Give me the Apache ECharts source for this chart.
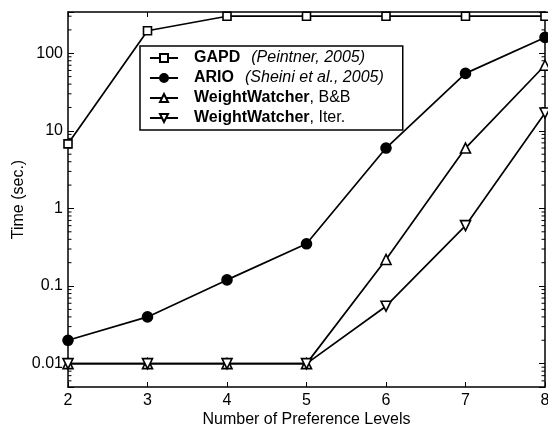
<!DOCTYPE html>
<html><head><meta charset="utf-8">
<script src="https://cdn.jsdelivr.net/npm/echarts@6/dist/echarts.min.js"></script>
<style>html,body{margin:0;padding:0;background:#fff}#c{width:548px;height:426px}</style>
</head><body><div id="c"></div><script>
const categories = ['2', '3', '4', '5', '6', '7', '8'];
const gapd = [6.8, 195, 300, 300, 300, 300, 300];
const ario = [0.02, 0.04, 0.12, 0.35, 6, 55, 160];
const wwBB = [0.01, 0.01, 0.01, 0.01, 0.22, 6, 70];
const wwIter = [0.01, 0.01, 0.01, 0.01, 0.055, 0.6, 17];
const seriesNames = ['GAPD', 'ARIO', 'WeightWatcher B&B', 'WeightWatcher Iter.'];
const legendBold = ['GAPD', 'ARIO', 'WeightWatcher', 'WeightWatcher'];
const legendRest = ['(Peintner, 2005)', '(Sheini et al., 2005)', ', B&B', ', Iter.'];
const legendItalic = [true, true, false, false];
const majorTickLabels = [0.01, 0.1, 1, 10, 100];
const minorTickValues = [0.006, 0.007, 0.008, 0.009,
  0.02, 0.03, 0.04, 0.05, 0.06, 0.07, 0.08, 0.09,
  0.2, 0.3, 0.4, 0.5, 0.6, 0.7, 0.8, 0.9,
  2, 3, 4, 5, 6, 7, 8, 9,
  20, 30, 40, 50, 60, 70, 80, 90,
  200, 300];

const FONT = 'Liberation Sans, Arial, Helvetica, sans-serif';
const chart = echarts.init(document.getElementById('c'), null, {renderer: 'canvas'});

function majorLabel(v) {
  for (const m of majorTickLabels) {
    if (Math.abs(Math.log10(v) - Math.log10(m)) < 1e-6) return String(m);
  }
  return '';
}

const lineStyle = {color: '#000', width: 1.7};
function mkSeries(name, data, symbol, size, fill, rotate) {
  return {
    type: 'line', name: name, data: data, symbol: symbol, symbolSize: size,
    symbolRotate: rotate || 0,
    itemStyle: {color: fill, borderColor: '#000', borderWidth: 1.6},
    lineStyle: lineStyle, xAxisIndex: 0, yAxisIndex: 0, z: 5
  };
}

const yBase = {
  type: 'log', logBase: 10, min: 0.005, max: 340,
  axisLine: {show: true, lineStyle: {color: '#000', width: 1.5}},
  axisTick: {show: true, inside: true, length: 6, lineStyle: {color: '#000', width: 1}},
  splitLine: {show: false}
};

const option = {
  animation: false,
  backgroundColor: '#fff',
  grid: {left: 68, right: 3, top: 12, bottom: 39, containLabel: false, outerBoundsMode: 'none'},
  legend: {
    data: seriesNames,
    orient: 'vertical', left: 140, top: 46,
    padding: [4, 19, 4, 9],
    itemWidth: 28, itemHeight: 10, itemGap: 4,
    borderColor: '#000', borderWidth: 1.5, borderRadius: 0,
    backgroundColor: '#fff',
    selectedMode: false,
    textStyle: {color: '#000', fontSize: 16, fontFamily: FONT, lineHeight: 16,
      rich: {
        b: {fontWeight: 'bold', fontSize: 16, fontFamily: FONT, color: '#000', lineHeight: 16, padding: [0, 0, 0, 11]},
        i: {fontStyle: 'italic', fontSize: 16, fontFamily: FONT, color: '#000', lineHeight: 16, padding: [0, 0, 0, 11]},
        r: {fontSize: 16, fontFamily: FONT, color: '#000', lineHeight: 16}
      }},
    formatter: function (name) {
      const i = seriesNames.indexOf(name);
      return '{b|' + legendBold[i] + '}' + (legendItalic[i] ? '{i|' : '{r|') + legendRest[i] + '}';
    }
  },
  xAxis: [{
    type: 'category', data: categories, boundaryGap: false, position: 'bottom',
    axisLine: {show: true, lineStyle: {color: '#000', width: 1.5}},
    axisTick: {show: true, inside: true, length: 5, alignWithLabel: true, lineStyle: {color: '#000', width: 1}},
    axisLabel: {color: '#000', fontSize: 16, fontFamily: FONT, margin: 6},
    splitLine: {show: false},
    name: 'Number of Preference Levels', nameLocation: 'middle', nameGap: 25, nameMoveOverlap: false,
    nameTextStyle: {color: '#000', fontSize: 16, fontFamily: FONT, verticalAlign: 'top'}
  }, {
    type: 'category', data: categories, boundaryGap: false, position: 'top',
    axisLine: {show: true, lineStyle: {color: '#000', width: 1.5}},
    axisTick: {show: true, inside: true, length: 5, lineStyle: {color: '#000', width: 1}},
    axisLabel: {show: false}, splitLine: {show: false}
  }],
  yAxis: [Object.assign({}, yBase, {
    position: 'left',
    axisLabel: {color: '#000', fontSize: 16, fontFamily: FONT, margin: 5, formatter: majorLabel},
    name: 'Time (sec.)', nameLocation: 'middle', nameGap: 41, nameMoveOverlap: false,
    nameTextStyle: {color: '#000', fontSize: 16, fontFamily: FONT}
  }), Object.assign({}, yBase, {
    position: 'right', axisLabel: {show: false}
  })],
  series: [
    mkSeries(seriesNames[0], gapd, 'rect', 8, '#fff'),
    mkSeries(seriesNames[1], ario, 'circle', 10, '#000'),
    mkSeries(seriesNames[2], wwBB, 'triangle', 10, '#fff'),
    mkSeries(seriesNames[3], wwIter, 'triangle', 10, '#fff', 180),
    {
      type: 'custom', name: 'minorTicks', silent: true, xAxisIndex: 0, yAxisIndex: 0, z: 1,
      data: minorTickValues.map(function (v) { return [0, v]; }),
      encode: {x: 0, y: 1},
      renderItem: function (params, api) {
        const y = api.coord([0, api.value(1)])[1];
        const cs = params.coordSys;
        return {type: 'group', children: [
          {type: 'line', shape: {x1: cs.x, y1: y, x2: cs.x + 3.5, y2: y}, style: {stroke: '#000', lineWidth: 1}},
          {type: 'line', shape: {x1: cs.x + cs.width - 3.5, y1: y, x2: cs.x + cs.width, y2: y}, style: {stroke: '#000', lineWidth: 1}}
        ]};
      }
    }
  ]
};
chart.setOption(option);
</script></body></html>
